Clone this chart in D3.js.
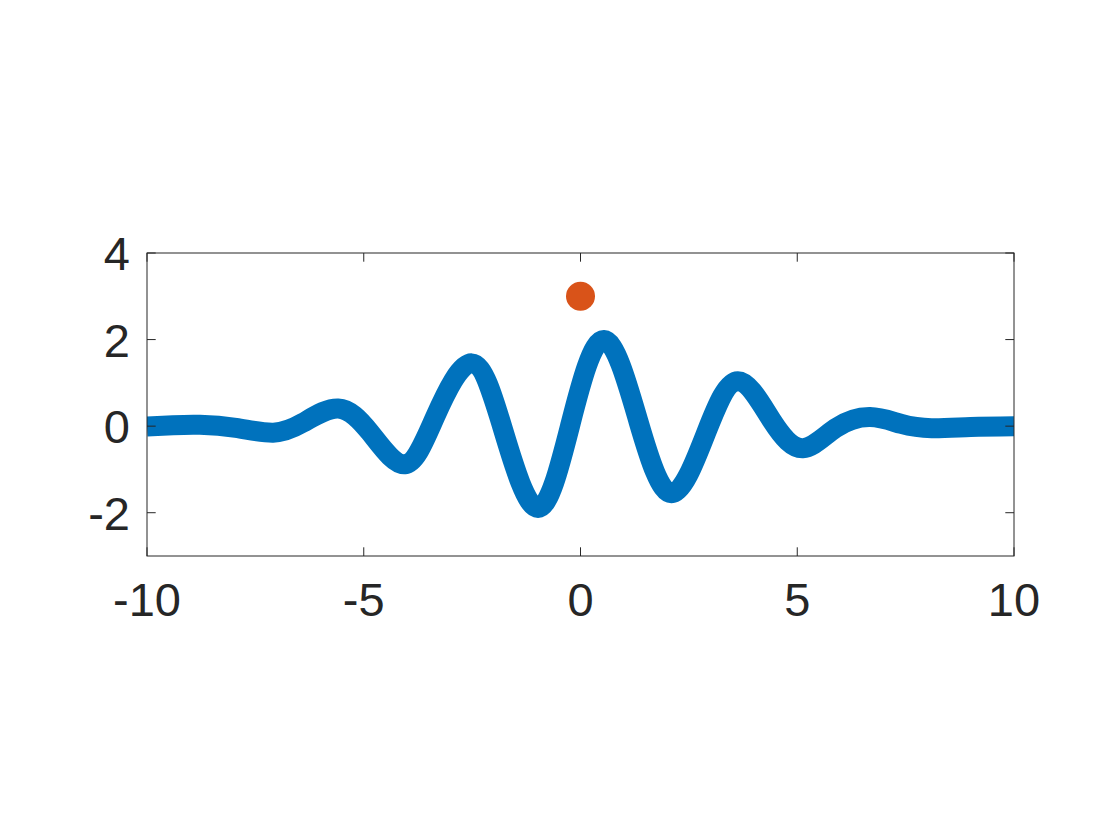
<!DOCTYPE html>
<html>
<head>
<meta charset="utf-8">
<script src="https://cdn.jsdelivr.net/npm/d3@7"></script>
<style>
    body { margin: 0; background: #fff; }
    svg { display: block; }
    .tick-label { font-family: "Liberation Sans", Arial, Helvetica, sans-serif; font-size: 47px; fill: #262626; }
</style>
</head>
<body>
<svg width="1120" height="840"></svg>
<script>
// curve (extrema + zero crossings)
var waveX = [-10, -9.4, -8.78, -7.95, -7.09, -6.4, -5.59, -4.85, -4.05, -3.36, -2.51, -1.78, -0.98, -0.23,
    0.54, 1.34, 2.10, 2.9, 3.63, 4.42, 5.13, 5.88, 6.68, 7.4, 8.1, 9.0, 10];
var waveY = [-0.01, 0.02, 0.03, -0.04, -0.15, 0.08, 0.41, -0.15, -0.88, 0.2, 1.45, -0.1, -1.89, 0.05,
    1.99, 0.1, -1.55, -0.15, 1.04, 0.12, -0.51, -0.05, 0.21, 0.05, -0.05, -0.02, 0.0];
var markerX = [0];
var markerY = [3];
var xTicks = [-10, -5, 0, 5, 10];
var yTicks = [-2, 0, 2, 4];

var svg, x, y;

document.addEventListener("DOMContentLoaded", function () {
    svg = d3.select("svg");

    var left = 147, right = 1014, top = 253, bottom = 556,
        tickLen = 8.7,
        axisColor = "#262626";

    x = d3.scaleLinear().domain([-10, 10]).range([left, right]);
    y = d3.scaleLinear().domain([-3, 4]).range([bottom, top]);

    svg.append("defs").append("clipPath")
        .attr("id", "plot-clip")
        .append("rect")
        .attr("x", left)
        .attr("y", top)
        .attr("width", right - left)
        .attr("height", bottom - top);

    var points = waveX.map(function (d, i) {
        return { x: d, y: waveY[i] };
    });

    var line = d3.line()
        .x(function (d) { return x(d.x); })
        .y(function (d) { return y(d.y); })
        .curve(d3.curveNatural);

    svg.append("path")
        .datum(points)
        .attr("clip-path", "url(#plot-clip)")
        .attr("fill", "none")
        .attr("stroke", "#0072BD")
        .attr("stroke-width", 20)
        .attr("stroke-linejoin", "round")
        .attr("d", line);

    svg.append("g")
        .selectAll("circle")
        .data(markerX)
        .enter().append("circle")
        .attr("cx", function (d) { return x(d); })
        .attr("cy", function (d, i) { return y(markerY[i]); })
        .attr("r", 14.5)
        .attr("fill", "#D95319");

    // box
    svg.append("rect")
        .attr("x", left)
        .attr("y", top)
        .attr("width", right - left)
        .attr("height", bottom - top)
        .attr("fill", "none")
        .attr("stroke", axisColor)
        .attr("stroke-width", 1);

    // ticks pointing inward on all four sides
    var ticks = svg.append("g").attr("stroke", axisColor).attr("stroke-width", 1);
    xTicks.forEach(function (t) {
        ticks.append("line").attr("x1", x(t)).attr("x2", x(t)).attr("y1", bottom).attr("y2", bottom - tickLen);
        ticks.append("line").attr("x1", x(t)).attr("x2", x(t)).attr("y1", top).attr("y2", top + tickLen);
    });
    yTicks.forEach(function (t) {
        ticks.append("line").attr("x1", left).attr("x2", left + tickLen).attr("y1", y(t)).attr("y2", y(t));
        ticks.append("line").attr("x1", right).attr("x2", right - tickLen).attr("y1", y(t)).attr("y2", y(t));
    });

    svg.append("g")
        .selectAll("text")
        .data(xTicks)
        .enter().append("text")
        .attr("class", "tick-label")
        .attr("x", function (d) { return x(d); })
        .attr("y", 616)
        .attr("text-anchor", "middle")
        .text(function (d) { return d; });

    svg.append("g")
        .selectAll("text")
        .data(yTicks)
        .enter().append("text")
        .attr("class", "tick-label")
        .attr("x", 130)
        .attr("y", function (d) { return y(d) + 17; })
        .attr("text-anchor", "end")
        .text(function (d) { return d; });
});
</script>
</body>
</html>
